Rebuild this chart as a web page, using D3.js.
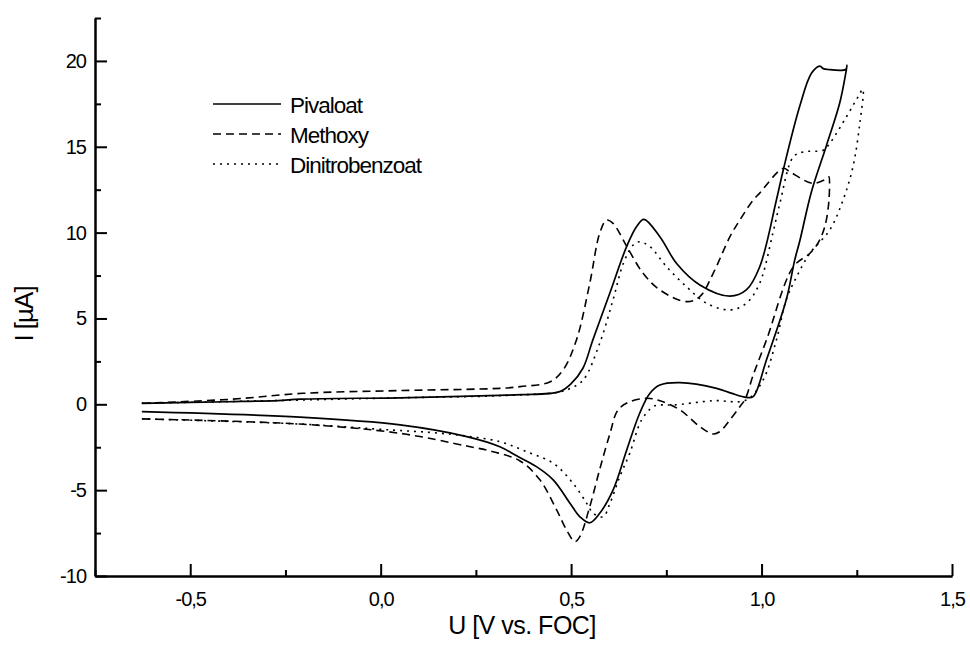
<!DOCTYPE html>
<html><head><meta charset="utf-8">
<script src="https://cdn.jsdelivr.net/npm/d3@7"></script>
<style>
body{margin:0;background:#fff}
svg{display:block}
text{font-family:"Liberation Sans",Arial,Helvetica,sans-serif;fill:#000}
</style>
</head><body>
<svg id="chart" width="970" height="657"></svg>
<script>
// ---- data (U in V vs. FOC, I in µA) ----
const seriesNames = ["Pivaloat", "Methoxy", "Dinitrobenzoat"];

const pivFwdU = [-0.627, -0.40, -0.27, -0.21, 0.05, 0.21, 0.31, 0.37, 0.47, 0.50, 0.531, 0.557, 0.602, 0.646, 0.672, 0.691, 0.733, 0.777, 0.838, 0.917, 0.960, 0.995, 1.039, 1.057, 1.100, 1.131, 1.153, 1.162, 1.174, 1.221, 1.2245];
const pivFwdI = [0.06, 0.15, 0.22, 0.30, 0.38, 0.46, 0.52, 0.56, 0.74, 1.2, 2.1, 3.75, 6.5, 9.2, 10.35, 10.77, 9.76, 8.2, 6.95, 6.3, 6.66, 8.0, 11.9, 13.65, 17.34, 19.28, 19.7, 19.55, 19.5, 19.5, 19.75];
const pivRevU = [1.221, 1.205, 1.170, 1.131, 1.100, 1.087, 1.065, 1.013, 0.978, 0.960, 0.92, 0.882, 0.786, 0.733, 0.707, 0.680, 0.646, 0.610, 0.575, 0.549, 0.523, 0.497, 0.453, 0.409, 0.357, 0.313, 0.226, 0.051, -0.212, -0.627];
const pivRevI = [19.28, 17.53, 15.05, 12.38, 9.48, 8.4, 6.1, 2.6, 0.45, 0.4, 0.65, 0.93, 1.26, 1.12, 0.64, -0.52, -2.66, -5.0, -6.35, -6.9, -6.55, -5.76, -4.4, -3.63, -3.0, -2.47, -1.88, -1.2, -0.75, -0.43];

const metFwdU = [-0.627, -0.396, -0.204, 0.051, 0.313, 0.366, 0.444, 0.479, 0.514, 0.549, 0.575, 0.593, 0.610, 0.646, 0.689, 0.733, 0.803, 0.838, 0.873, 0.917, 0.943, 0.978, 0.995, 1.057, 1.074, 1.135, 1.175, 1.177];
const metFwdI = [0.06, 0.29, 0.64, 0.80, 0.93, 1.03, 1.3, 2.0, 3.75, 7.05, 9.96, 10.73, 10.54, 9.2, 7.63, 6.66, 5.98, 6.27, 7.63, 9.76, 10.73, 11.9, 12.3, 13.75, 13.55, 12.87, 13.2, 13.25];
const metRevU = [1.177, 1.166, 1.148, 1.127, 1.083, 1.013, 0.978, 0.957, 0.943, 0.917, 0.890, 0.873, 0.838, 0.786, 0.733, 0.698, 0.654, 0.623, 0.602, 0.575, 0.549, 0.523, 0.510, 0.488, 0.462, 0.418, 0.366, 0.295, 0.226, 0.051, -0.212, -0.627];
const metRevI = [11.9, 10.35, 9.38, 8.8, 8.0, 3.75, 1.7, 0.3, -0.14, -0.91, -1.6, -1.73, -1.3, -0.33, 0.21, 0.35, 0.15, -0.33, -1.7, -3.8, -5.96, -7.7, -8.0, -7.32, -6.15, -4.4, -3.3, -2.76, -2.43, -1.69, -1.15, -0.85];

const dinFwdU = [-0.627, -0.27, 0.05, 0.31, 0.47, 0.50, 0.532, 0.575, 0.610, 0.637, 0.663, 0.680, 0.707, 0.751, 0.803, 0.856, 0.917, 0.960, 0.995, 1.030, 1.048, 1.083, 1.109, 1.162, 1.179, 1.223, 1.253, 1.266];
const dinFwdI = [0.06, 0.22, 0.38, 0.50, 0.72, 0.95, 1.42, 3.55, 6.08, 8.2, 9.28, 9.47, 9.18, 8.0, 6.85, 5.88, 5.5, 5.88, 7.05, 10.0, 11.7, 14.4, 14.7, 14.8, 15.2, 16.75, 17.9, 18.35];
const dinRevU = [1.258, 1.240, 1.214, 1.179, 1.127, 1.092, 1.065, 1.039, 1.004, 0.960, 0.873, 0.768, 0.733, 0.715, 0.685, 0.654, 0.628, 0.602, 0.584, 0.558, 0.541, 0.505, 0.453, 0.383, 0.313, 0.226, 0.137, 0.03, -0.212, -0.627];
const dinRevI = [16.37, 13.84, 11.9, 10.15, 8.8, 7.43, 6.1, 3.75, 1.42, 0.25, 0.21, -0.04, -0.04, -0.14, -0.91, -2.85, -4.2, -5.77, -6.55, -6.35, -5.77, -4.6, -3.43, -2.76, -2.18, -1.85, -1.65, -1.5, -1.15, -0.85];

const xMajorTicks = [-0.5, 0.0, 0.5, 1.0, 1.5];
const xMinorTicks = [-0.75, -0.25, 0.25, 0.75, 1.25];
const yMajorTicks = [-10, -5, 0, 5, 10, 15, 20];
const yMinorTicks = [-7.5, -2.5, 2.5, 7.5, 12.5, 17.5, 22.5];

const xTitle = "U [V vs. FOC]";
const yTitle = "I [µA]";

// ---- build ----
const svg = d3.select("#chart");
const x = d3.scaleLinear().domain([-0.75, 1.5]).range([95, 952]);
const y = d3.scaleLinear().domain([-10, 22.5]).range([576, 18]);

function zip(u, i) { return u.map((d, k) => [d, i[k]]); }
const series = [
  { name: seriesNames[0], pts: zip(pivFwdU, pivFwdI).concat(zip(pivRevU, pivRevI)), dash: null, w: 1.7 },
  { name: seriesNames[1], pts: zip(metFwdU, metFwdI).concat(zip(metRevU, metRevI)), dash: "8,5", w: 1.6 },
  { name: seriesNames[2], pts: zip(dinFwdU, dinFwdI).concat(zip(dinRevU, dinRevI)), dash: "2,5", w: 1.6 }
];

const line = d3.line().x(d => x(d[0])).y(d => y(d[1])).curve(d3.curveCatmullRom.alpha(0.5));

svg.append("g").selectAll("path").data(series).join("path")
  .attr("d", d => line(d.pts))
  .attr("fill", "none").attr("stroke", "#000")
  .attr("stroke-width", d => d.w)
  .attr("stroke-dasharray", d => d.dash)
  .attr("stroke-linejoin", "round");

const fmtX = d => d3.format(".1f")(d).replace("−", "-").replace(".", ",");
const fmtY = d => String(d);

// x axis
const gx = svg.append("g").attr("transform", "translate(0,576)");
gx.call(d3.axisBottom(x).tickValues(xMajorTicks).tickSizeInner(-12).tickSizeOuter(0).tickPadding(16).tickFormat(fmtX));
gx.append("g").call(d3.axisBottom(x).tickValues(xMinorTicks).tickSizeInner(-6).tickSizeOuter(0).tickFormat(""));
// y axis
const gy = svg.append("g").attr("transform", "translate(95,0)");
gy.call(d3.axisLeft(y).tickValues(yMajorTicks).tickSizeInner(-12).tickSizeOuter(0).tickPadding(9).tickFormat(fmtY));
gy.append("g").call(d3.axisLeft(y).tickValues(yMinorTicks).tickSizeInner(-6).tickSizeOuter(0).tickFormat(""));

svg.selectAll(".domain").attr("stroke", "#000").attr("stroke-width", 2);
svg.selectAll(".tick line").attr("stroke", "#000").attr("stroke-width", 2);
svg.selectAll(".tick text").attr("font-size", 20).attr("letter-spacing", "-1px")
  .attr("font-family", "'Liberation Sans', Arial, sans-serif").attr("fill", "#000");

// titles
svg.append("text").attr("x", 522).attr("y", 634).attr("text-anchor", "middle")
  .attr("font-size", 25).attr("letter-spacing", "-0.5px").text(xTitle);
svg.append("text").attr("transform", "translate(33,314) rotate(-90)").attr("text-anchor", "middle")
  .attr("font-size", 26).attr("letter-spacing", "-1px").text(yTitle);

// legend
const lg = svg.append("g");
const legY = [104, 134, 164];
series.forEach((s, k) => {
  lg.append("line").attr("x1", 213).attr("x2", 281).attr("y1", legY[k]).attr("y2", legY[k])
    .attr("stroke", "#000").attr("stroke-width", s.w).attr("stroke-dasharray", s.dash);
  lg.append("text").attr("x", 290).attr("y", legY[k] + 9).attr("font-size", 22.5)
    .attr("letter-spacing", "-1px").text(s.name);
});
</script>
</body></html>
